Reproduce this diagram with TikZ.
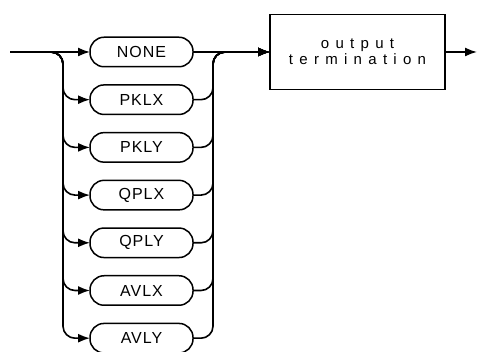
\documentclass[tikz,border=0pt]{standalone}
\usepackage{fontspec}
\setmainfont{Liberation Sans}
\newfontfamily\optfont[LetterSpace=6]{Liberation Sans}
\newfontfamily\boxfont[LetterSpace=42]{Liberation Sans}
\usepackage{tikz}
\usetikzlibrary{arrows.meta, positioning}

\begin{document}
\begin{tikzpicture}[
    x=1pt, y=1pt,
    node distance=18.2pt,
    opt/.style={
        draw,
        line width=1.5pt,
        rounded corners=14pt,
        minimum width=103pt,
        minimum height=29.5pt,
        inner sep=0pt,
        outer sep=0pt,
        font=\optfont\fontsize{16}{18}\selectfont
    },
    termbox/.style={
        draw,
        line width=1.3pt,
        align=center,
        minimum width=175pt,
        minimum height=75pt,
        inner sep=0pt,
        outer sep=0pt,
        font=\boxfont\fontsize{15}{16}\selectfont
    },
    arrow/.style={
        -{Latex[length=12pt,width=9pt]},
        line width=1.6pt
    },
    bus/.style={
        arrow,
        rounded corners=12pt
    }
]
\useasboundingbox (0,0) rectangle (478,352);

\node[opt] at (141.5,300) (none) {NONE};

\node[opt, below=of none] (pklx) {PKLX};
\node[opt, below=of pklx] (pkly) {PKLY};
\node[opt, below=of pkly] (qplx) {QPLX};
\node[opt, below=of qplx] (qply) {QPLY};
\node[opt, below=of qply] (avlx) {AVLX};
\node[opt, below=of avlx] (avly) {AVLY};

\node[termbox, right=77pt of none] (term)
{output\\termination};

\coordinate (in) at (10,300);
\coordinate (lbus) at (63,300);
\coordinate (rbus) at (213,300);
\coordinate (out) at (477,300);

\draw[arrow] (in) -- (none);
\draw[line width=1.6pt] (none) -- (rbus);
\draw[arrow] (rbus) -- (term);
\draw[arrow] (term) -- (out);

\foreach \opt in {pklx, pkly, qplx, qply, avlx, avly} {
    \draw[bus] (in) -- (lbus) |- (\opt.west);
    \draw[bus] (\opt.east) -| (rbus) -- (term.west);
}

\end{tikzpicture}
\end{document}
